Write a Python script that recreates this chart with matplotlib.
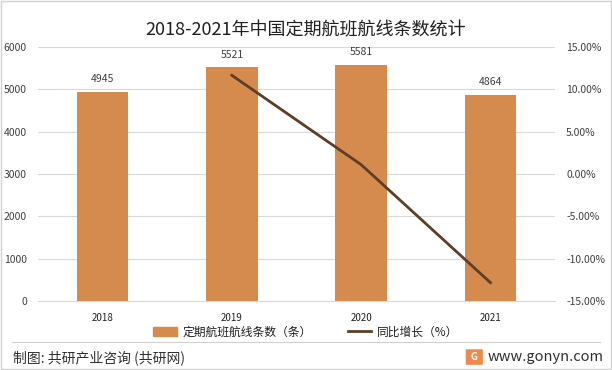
import matplotlib.pyplot as plt
from matplotlib.patches import Rectangle, FancyBboxPatch
from matplotlib.lines import Line2D

plt.rcParams['font.family'] = ['Noto Sans CJK SC', 'DejaVu Sans']

years = ['2018', '2019', '2020', '2021']
routes = [4945, 5521, 5581, 4864]
growth_years = ['2019', '2020', '2021']
growth = [11.65, 1.09, -12.85]

bar_color = '#D48B4D'
line_color = '#5E3E26'
text_color = '#404040'

fig = plt.figure(figsize=(6.12, 3.7), dpi=100)

ax = fig.add_axes([0.062, 0.187, 0.845, 0.686])
x = list(range(len(years)))
ax.bar(x, routes, width=0.4, color=bar_color, zorder=2)
for xi, v in zip(x, routes):
    ax.text(xi, v + 180, str(v), ha='center', va='bottom', fontsize=7.5, color=text_color)

ax.set_xlim(-0.5, 3.5)
ax.set_ylim(0, 6000)
ax.set_yticks(range(0, 6001, 1000))
ax.set_xticks(x)
ax.set_xticklabels(years, fontsize=7, color='#202020')
ax.tick_params(axis='y', labelsize=7.5, colors=text_color, length=0, pad=8)
ax.tick_params(axis='x', length=0, pad=9)
ax.grid(axis='y', color='#D9D9D9', linewidth=0.8, zorder=0)
for s in ax.spines.values():
    s.set_visible(False)
ax.spines['bottom'].set_visible(True)
ax.spines['bottom'].set_color('#D9D9D9')

ax2 = ax.twinx()
gx = [years.index(y) for y in growth_years]
ax2.plot(gx, growth, color=line_color, linewidth=2, zorder=3)
ax2.set_ylim(-15, 15)
ax2.set_yticks(range(-15, 16, 5))
ax2.set_yticklabels([f'{t:.2f}%' for t in range(-15, 16, 5)])
ax2.tick_params(axis='y', labelsize=7.5, colors=text_color, length=0, pad=8)
for s in ax2.spines.values():
    s.set_visible(False)

fig.text(0.5, 0.918, '2018-2021年中国定期航班航线条数统计', ha='center', va='center',
         fontsize=13, color='#202020')

handles = [Rectangle((0, 0), 1, 1, color=bar_color),
           Line2D([0], [0], color=line_color, linewidth=2)]
fig.legend(handles, ['定期航班航线条数（条）', '同比增长（%）'], loc='center',
           bbox_to_anchor=(0.5, 0.103), ncol=2, frameon=False, fontsize=8.5,
           handlelength=2.0, handleheight=0.8, handletextpad=0.5, columnspacing=3.0,
           labelcolor='#202020')

fig.add_artist(Line2D([0.02, 0.98], [0.075, 0.075], color='#D0D0D0', linewidth=0.8))
fig.text(0.022, 0.032, '制图: 共研产业咨询 (共研网)', ha='left', va='center',
         fontsize=10, color='#303030')
fig.add_artist(FancyBboxPatch((0.763, 0.016), 0.024, 0.038, boxstyle='round,pad=0.002',
                              facecolor='#F08A4B', edgecolor='none', transform=fig.transFigure))
fig.text(0.775, 0.035, 'G', ha='center', va='center', fontsize=7, color='white',
         fontweight='bold')
fig.text(0.797, 0.035, 'www.gonyn.com', ha='left', va='center', fontsize=10.5, color='#303030')

fig.add_artist(Rectangle((0.002, 0.003), 0.996, 0.994, fill=False, edgecolor='#D0D0D0',
                         linewidth=1, transform=fig.transFigure))

fig.savefig('out.png', dpi=100)
